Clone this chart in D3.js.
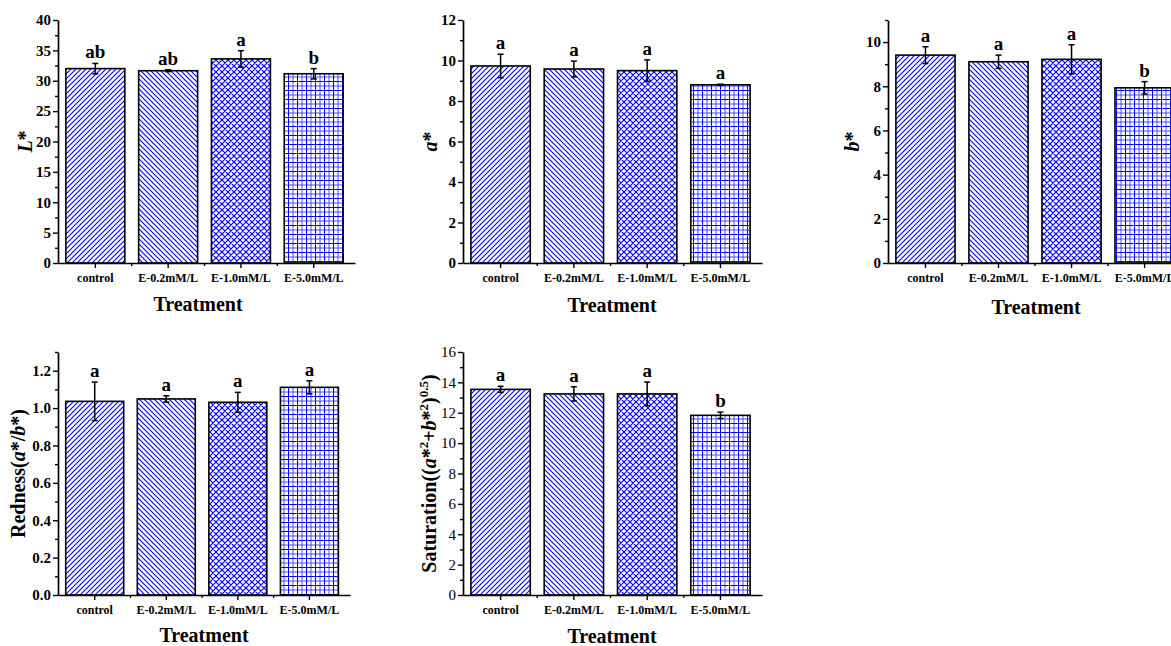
<!DOCTYPE html>
<html>
<head>
<meta charset="utf-8">
<script src="https://cdn.jsdelivr.net/npm/d3@7"></script>
<style>
  body { margin: 0; background: #fff; overflow: hidden; }
  svg { display: block; }
  text { font-family: "Times New Roman", "Liberation Serif", serif; }
</style>
</head>
<body>
<svg id="chart" width="1171" height="646"></svg>
<script>
// data
const treatments = ["control", "E-0.2mM/L", "E-1.0mM/L", "E-5.0mM/L"];

const lValues = [32.0, 31.65, 33.6, 31.15];
const lErrors = [0.85, 0.15, 1.35, 0.85];
const lLetters = ["ab", "ab", "a", "b"];

const aValues = [9.73, 9.58, 9.5, 8.8];
const aErrors = [0.58, 0.39, 0.53, 0.03];
const aLetters = ["a", "a", "a", "a"];

const bValues = [9.41, 9.11, 9.22, 7.93];
const bErrors = [0.38, 0.3, 0.66, 0.28];
const bLetters = ["a", "a", "a", "b"];

const rednessValues = [1.036, 1.049, 1.031, 1.111];
const rednessErrors = [0.103, 0.017, 0.053, 0.035];
const rednessLetters = ["a", "a", "a", "a"];

const satValues = [13.54, 13.24, 13.24, 11.83];
const satErrors = [0.2, 0.47, 0.78, 0.21];
const satLetters = ["a", "a", "a", "b"];

const lTicks = [0, 5, 10, 15, 20, 25, 30, 35, 40];
const aTicks = [0, 2, 4, 6, 8, 10, 12];
const bTicks = [0, 2, 4, 6, 8, 10];
const rednessTicks = [0, 0.2, 0.4, 0.6, 0.8, 1.0, 1.2];
const satTicks = [0, 2, 4, 6, 8, 10, 12, 14, 16];

const blue = "#0000ff";
const svg = d3.select("#chart");
const defs = svg.append("defs");

function pattern(id, size, draw) {
  const p = defs.append("pattern")
    .attr("id", id)
    .attr("patternUnits", "userSpaceOnUse")
    .attr("width", size)
    .attr("height", size);
  p.append("rect").attr("width", size).attr("height", size).attr("fill", "#fff");
  draw(p);
}

pattern("hatchUp", 5, p => p.append("path")
  .attr("d", "M-1,1 L1,-1 M0,5 L5,0 M4,6 L6,4")
  .attr("stroke", blue).attr("stroke-width", 1.1));
pattern("hatchDown", 5, p => p.append("path")
  .attr("d", "M-1,4 L1,6 M0,0 L5,5 M4,-1 L6,1")
  .attr("stroke", blue).attr("stroke-width", 1.1));
pattern("hatchCross", 6, p => p.append("path")
  .attr("d", "M0,0 L6,6 M-1,5 L1,7 M5,-1 L7,1 M0,6 L6,0 M-1,1 L1,-1 M5,7 L7,5")
  .attr("stroke", blue).attr("stroke-width", 1.2));
pattern("hatchGrid", 9, p => {
  p.append("path").attr("d", "M0,0.5 H9 M0.5,0 V9")
    .attr("stroke", blue).attr("stroke-width", 1.1);
  p.append("path").attr("d", "M0,5 H9 M5,0 V9")
    .attr("stroke", blue).attr("stroke-width", 1).attr("opacity", 0.7);
});
const fills = ["hatchUp", "hatchDown", "hatchCross", "hatchGrid"];

function drawPanel(cfg) {
  const g = svg.append("g");
  const x = d3.scaleBand()
    .domain(treatments)
    .range([cfg.x0, cfg.x1])
    .paddingInner(0.19)
    .paddingOuter(0.135)
    .align(0.4);
  const y = d3.scaleLinear().domain([0, cfg.yMax]).range([cfg.yBottom, cfg.yTop]);

  const rows = treatments.map((t, i) => ({
    t, v: cfg.values[i], e: cfg.errors[i], letter: cfg.letters[i], fill: fills[i]
  }));

  g.selectAll("rect.bar")
    .data(rows)
    .join("rect")
    .attr("class", "bar")
    .attr("x", d => x(d.t))
    .attr("y", d => y(d.v))
    .attr("width", x.bandwidth())
    .attr("height", d => y(0) - y(d.v))
    .attr("fill", d => `url(#${d.fill})`)
    .attr("stroke", "#000")
    .attr("stroke-width", 1.6);

  // error bars
  const cx = d => x(d.t) + x.bandwidth() / 2;
  const err = g.selectAll("g.err").data(rows).join("g").attr("class", "err")
    .attr("stroke", "#000").attr("stroke-width", 1.5);
  err.append("line")
    .attr("x1", cx).attr("x2", cx)
    .attr("y1", d => y(d.v + d.e)).attr("y2", d => y(d.v - d.e));
  err.append("line")
    .attr("x1", d => cx(d) - 3).attr("x2", d => cx(d) + 3)
    .attr("y1", d => y(d.v + d.e)).attr("y2", d => y(d.v + d.e));
  err.append("line")
    .attr("x1", d => cx(d) - 3).attr("x2", d => cx(d) + 3)
    .attr("y1", d => y(d.v - d.e)).attr("y2", d => y(d.v - d.e));

  // significance letters
  g.selectAll("text.letter")
    .data(rows)
    .join("text")
    .attr("class", "letter")
    .attr("x", cx)
    .attr("y", d => y(d.v + d.e) - 5)
    .attr("text-anchor", "middle")
    .attr("font-size", 19)
    .attr("font-weight", "bold")
    .text(d => d.letter);

  // y axis
  const yAxis = g.append("g")
    .attr("transform", `translate(${cfg.x0},0)`)
    .call(d3.axisLeft(y).tickValues(cfg.ticks).tickFormat(cfg.fmt).tickSize(5).tickSizeOuter(0).tickPadding(2));
  yAxis.selectAll("text")
    .attr("font-family", "Times New Roman, Liberation Serif, serif")
    .attr("font-size", 15)
    .attr("font-weight", cfg.tickWeight)
    .attr("fill", "#000");
  const minor = d3.range(cfg.minorStep, cfg.yMax + 1e-9, cfg.minorStep)
    .filter(v => !cfg.ticks.some(t => Math.abs(t - v) < 1e-9));
  g.append("g")
    .attr("transform", `translate(${cfg.x0},0)`)
    .call(d3.axisLeft(y).tickValues(minor).tickFormat("").tickSize(3).tickSizeOuter(0))
    .call(a => a.select(".domain").remove());

  // x axis
  const xAxis = g.append("g")
    .attr("transform", `translate(0,${cfg.yBottom})`)
    .call(d3.axisBottom(x).tickSize(5).tickSizeOuter(0).tickPadding(5));
  xAxis.selectAll("text")
    .attr("font-family", "Times New Roman, Liberation Serif, serif")
    .attr("font-size", 12)
    .attr("font-weight", "bold")
    .attr("fill", "#000");
  const bounds = treatments.slice(1).map(t => x(t) - (x.step() - x.bandwidth()) / 2);
  g.append("g").selectAll("line")
    .data(bounds)
    .join("line")
    .attr("x1", d => d).attr("x2", d => d)
    .attr("y1", cfg.yBottom).attr("y2", cfg.yBottom + 3)
    .attr("stroke", "#000");

  g.selectAll("g line").filter(function () { return !this.closest(".err"); })
    .attr("stroke", "#000").attr("stroke-width", 1.4);
  g.selectAll(".domain").attr("stroke", "#000").attr("stroke-width", 1.7);

  // axis titles
  g.append("text")
    .attr("x", cfg.titleX)
    .attr("y", cfg.titleY)
    .attr("text-anchor", "middle")
    .attr("font-size", 20)
    .attr("font-weight", "bold")
    .text("Treatment");

  const yl = g.append("text")
    .attr("transform", `translate(${cfg.labelX},${(cfg.yTop + cfg.yBottom) / 2}) rotate(-90)`)
    .attr("text-anchor", "middle")
    .attr("font-size", 20)
    .attr("font-weight", "bold");
  cfg.label.forEach(part => {
    const s = yl.append("tspan").text(part.t);
    if (part.i) s.attr("font-style", "italic");
    if (part.sup) s.attr("font-size", 13).attr("dy", -8);
    if (part.down) s.attr("dy", 8);
  });
}

const f0 = d3.format("d");
const f1 = d3.format(".1f");

drawPanel({
  values: lValues, errors: lErrors, letters: lLetters, ticks: lTicks, fmt: f0,
  yMax: 40, minorStep: 2.5, tickWeight: "bold",
  x0: 58, x1: 355, yTop: 20, yBottom: 263, titleX: 198, titleY: 311, labelX: 32,
  label: [{ t: "L", i: true }, { t: "*" }]
});
drawPanel({
  values: aValues, errors: aErrors, letters: aLetters, ticks: aTicks, fmt: f0,
  yMax: 12, minorStep: 1, tickWeight: "bold",
  x0: 463, x1: 762, yTop: 20, yBottom: 263, titleX: 612, titleY: 312, labelX: 437,
  label: [{ t: "a", i: true }, { t: "*" }]
});
drawPanel({
  values: bValues, errors: bErrors, letters: bLetters, ticks: bTicks, fmt: f0,
  yMax: 11, minorStep: 1, tickWeight: "bold",
  x0: 888, x1: 1186, yTop: 20, yBottom: 263, titleX: 1036, titleY: 314, labelX: 859,
  label: [{ t: "b", i: true }, { t: "*" }]
});
drawPanel({
  values: rednessValues, errors: rednessErrors, letters: rednessLetters, ticks: rednessTicks, fmt: f1,
  yMax: 1.3, minorStep: 0.1, tickWeight: "bold",
  x0: 58, x1: 350, yTop: 352, yBottom: 595, titleX: 204, titleY: 642, labelX: 25,
  label: [{ t: "Redness(" }, { t: "a", i: true }, { t: "*/" }, { t: "b", i: true }, { t: "*)" }]
});
drawPanel({
  values: satValues, errors: satErrors, letters: satLetters, ticks: satTicks, fmt: f0,
  yMax: 16, minorStep: 1, tickWeight: "normal",
  x0: 463, x1: 762, yTop: 352, yBottom: 595, titleX: 612, titleY: 643, labelX: 436,
  label: [
    { t: "Saturation((" }, { t: "a", i: true }, { t: "*" }, { t: "2", sup: true },
    { t: "+", down: true }, { t: "b", i: true }, { t: "*" }, { t: "2", sup: true },
    { t: ")", down: true }, { t: "0.5", sup: true }, { t: ")", down: true }
  ]
});
</script>
</body>
</html>
